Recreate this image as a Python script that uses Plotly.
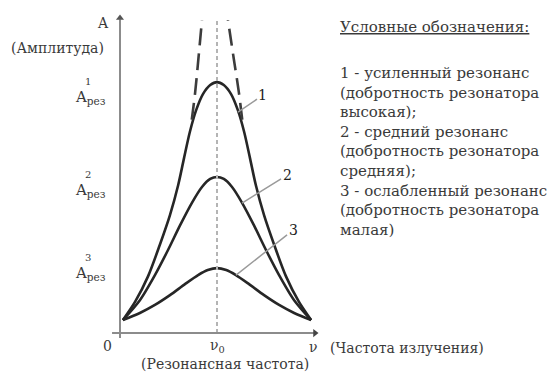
import plotly.graph_objects as go

# Frequency axis in units of the resonance frequency (nu / nu0), amplitude in relative units
nu_1 = [0.03, 0.155, 0.29, 0.41, 0.515, 0.6, 0.66, 0.72, 0.785, 0.855, 0.93, 1.0,
        1.07, 1.145, 1.215, 1.28, 1.34, 1.4, 1.485, 1.59, 1.71, 1.845, 1.97]
amp_1 = [0.052, 0.124, 0.227, 0.351, 0.47, 0.59, 0.697, 0.801, 0.888, 0.952, 0.988, 1.0,
         0.988, 0.952, 0.888, 0.801, 0.697, 0.59, 0.47, 0.351, 0.227, 0.124, 0.052]

nu_2 = [0.03, 0.205, 0.36, 0.495, 0.62, 0.74, 0.845, 0.93, 1.0,
        1.07, 1.155, 1.26, 1.38, 1.505, 1.64, 1.795, 1.97]
amp_2 = [0.052, 0.131, 0.231, 0.331, 0.43, 0.518, 0.582, 0.614, 0.622,
         0.614, 0.582, 0.518, 0.43, 0.331, 0.231, 0.131, 0.052]

nu_3 = [0.03, 0.205, 0.36, 0.515, 0.67, 0.805, 0.905, 1.0,
        1.095, 1.195, 1.33, 1.485, 1.64, 1.795, 1.97]
amp_3 = [0.052, 0.08, 0.112, 0.151, 0.195, 0.231, 0.251, 0.259,
         0.251, 0.231, 0.195, 0.151, 0.112, 0.08, 0.052]

# Unbounded resonance branch (dashed), leaving curve 1 near its shoulders
nu_inf_left = [0.74, 0.775, 0.81, 0.845]
nu_inf_right = [1.26, 1.225, 1.17, 1.113]
amp_inf = [0.85, 0.96, 1.1, 1.247]

peak_levels = [1.0, 0.622, 0.259]
peak_tick_sup = ["1", "2", "3"]
curve_ids = ["1", "2", "3"]

legend_title = "Условные обозначения:"
legend_lines = [
    "1 - усиленный резонанс",
    "(добротность резонатора",
    "высокая);",
    "2 - средний резонанс",
    "(добротность резонатора",
    "средняя);",
    "3 - ослабленный резонанс",
    "(добротность резонатора",
    "малая)",
]

FONT = "DejaVu Serif, Liberation Serif, serif"
TXT = "#3a3a3a"
CURVE = "#262626"
AXIS = "#8c8c8c"

fig = go.Figure()

for nu, amp in [(nu_1, amp_1), (nu_2, amp_2), (nu_3, amp_3)]:
    fig.add_trace(go.Scatter(x=nu, y=amp, mode="lines",
                             line=dict(color=CURVE, width=2.6, shape="spline", smoothing=0.8),
                             hoverinfo="skip", showlegend=False))

for nu in (nu_inf_left, nu_inf_right):
    fig.add_trace(go.Scatter(x=nu, y=amp_inf, mode="lines",
                             line=dict(color="#3c3c3c", width=2.6, dash="17px,8px", shape="spline"),
                             hoverinfo="skip", showlegend=False))

# resonance frequency marker
fig.add_trace(go.Scatter(x=[1.0, 1.0], y=[0.0, 1.247], mode="lines",
                         line=dict(color="#b4b4b4", width=2, dash="4px,3px"),
                         hoverinfo="skip", showlegend=False))

# coordinate axes
fig.add_trace(go.Scatter(x=[0, 0], y=[-0.02, 1.25], mode="lines",
                         line=dict(color=AXIS, width=2), hoverinfo="skip", showlegend=False))
fig.add_trace(go.Scatter(x=[-0.082, 2.0], y=[0, 0], mode="lines",
                         line=dict(color=AXIS, width=2), hoverinfo="skip", showlegend=False))
# arrow heads
fig.add_trace(go.Scatter(x=[0], y=[1.255], mode="markers",
                         marker=dict(symbol="triangle-up", size=7, color="#555"),
                         hoverinfo="skip", showlegend=False))
fig.add_trace(go.Scatter(x=[2.01], y=[0], mode="markers",
                         marker=dict(symbol="triangle-right", size=7, color="#444"),
                         hoverinfo="skip", showlegend=False))

ann = []


def label(x, y, text, size=14, xanchor="center"):
    ann.append(dict(x=x, y=y, xref="x", yref="y", text=text,
                    showarrow=False, xanchor=xanchor, yanchor="middle",
                    font=dict(family=FONT, size=size, color=TXT)))


# axis captions
label(-0.175, 1.235, "A", size=14)
label(-0.64, 1.135, "(Амплитуда)", size=14)
label(-0.124, -0.052, "0", size=14)
label(1.01, -0.052, "ν<sub>0</sub>", size=14)
label(1.99, -0.056, "ν", size=14)
label(1.08, -0.122, "(Резонансная частота)", size=14)
label(2.14, -0.06, "(Частота излучения)", size=14, xanchor="left")

# peak amplitude labels on the vertical axis
tick_offsets = [0.06, 0.052, 0.02]
for lvl, sup, off in zip(peak_levels, peak_tick_sup, tick_offsets):
    label(-0.3, lvl - off, "A<sub>рез</sub>", size=15)
    label(-0.33, lvl - off + 0.062, sup, size=10)

# curve numbers with leader lines
leader_pts = [(1.216, 0.88), (1.258, 0.518), (1.196, 0.231)]
number_pos = [(1.474, 0.948), (1.722, 0.629), (1.784, 0.41)]
for cid, (px, py), (tx, ty) in zip(curve_ids, leader_pts, number_pos):
    ann.append(dict(x=px, y=py, ax=tx, ay=ty, xref="x", yref="y", axref="x", ayref="y",
                    text=cid, showarrow=True, arrowhead=0, arrowwidth=1.5,
                    arrowcolor="#9a9a9a", standoff=0,
                    font=dict(family=FONT, size=14, color="#222")))

# legend text block
ann.append(dict(x=338 / 551, y=1 - 27 / 373, xref="paper", yref="paper", showarrow=False,
                text="<u>" + legend_title + "</u>", xanchor="left", yanchor="middle",
                font=dict(family=FONT, size=15, color=TXT)))
y0, dy = 73, 19.6
for i, line in enumerate(legend_lines):
    ann.append(dict(x=338 / 551, y=1 - (y0 + i * dy) / 373, xref="paper", yref="paper",
                    showarrow=False, text=line, xanchor="left", yanchor="middle",
                    font=dict(family=FONT, size=15, color=TXT)))

fig.update_layout(
    width=551, height=373,
    margin=dict(l=0, r=0, t=0, b=0),
    paper_bgcolor="white", plot_bgcolor="white",
    xaxis=dict(range=[-1.237, 4.443], visible=False, fixedrange=True),
    yaxis=dict(range=[-0.159, 1.327], visible=False, fixedrange=True),
    annotations=ann,
    showlegend=False,
)

fig.write_html("out.html", config={"displayModeBar": False})
